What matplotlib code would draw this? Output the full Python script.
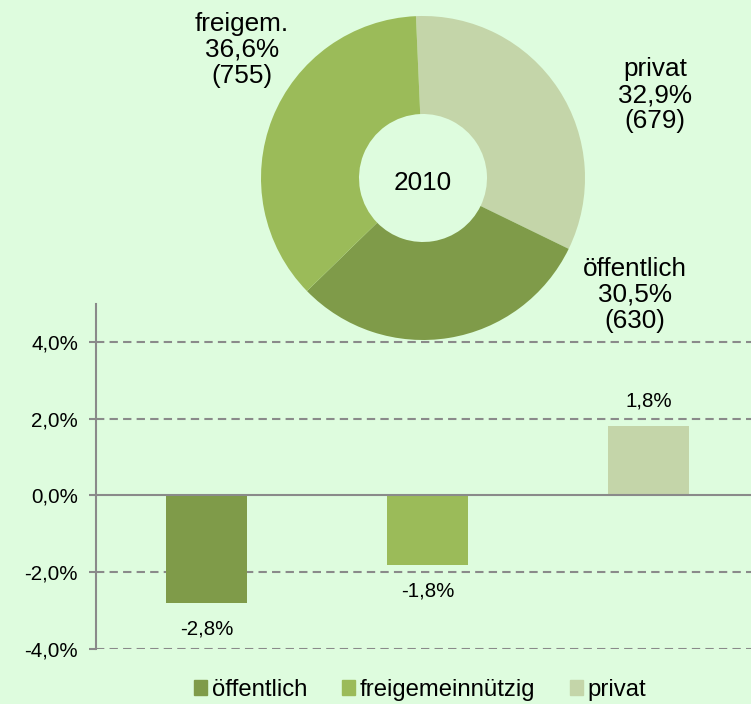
import matplotlib
matplotlib.use("Agg")
import matplotlib.pyplot as plt
from matplotlib.patches import Patch

plt.rcParams['font.family'] = ['Liberation Sans', 'DejaVu Sans']

# data
categories = ['öffentlich', 'freigemeinnützig', 'privat']
changes = [-2.8, -1.8, 1.8]          # Veränderung in %
change_labels = ['-2,8%', '-1,8%', '1,8%']

pie_names = ['privat', 'öffentlich', 'freigem.']
pie_shares = [32.9, 30.5, 36.6]
pie_share_labels = ['32,9%', '30,5%', '36,6%']
pie_counts = [679, 630, 755]
pie_year = '2010'

y_ticks = [-4, -2, 0, 2, 4]
y_ticklabels = ['-4,0%', '-2,0%', '0,0%', '2,0%', '4,0%']

colors = {'öffentlich': '#7F9B49', 'freigemeinnützig': '#9BBB59', 'privat': '#C4D5A9'}
pie_colors = [colors['privat'], colors['öffentlich'], colors['freigemeinnützig']]
bg = '#DEFCDE'
grey = '#8A8A8A'

W, H = 751, 704
fig = plt.figure(figsize=(W / 100, H / 100), dpi=100, facecolor=bg)


def px(x, y):
    """pixel (from top left) to figure fraction"""
    return x / W, 1 - y / H


# bar chart
ax = fig.add_axes([96 / W, 55 / H, 655 / W, 345.5 / H])
ax.set_facecolor(bg)
xs = list(range(len(categories)))
ax.bar(xs, changes, width=0.37, color=[colors[c] for c in categories], zorder=3)
ax.set_xlim(-0.5, -0.5 + 655 / 221)
ax.set_ylim(-4, 5)
for t in y_ticks:
    if t == 0:
        ax.axhline(0, color=grey, lw=1.5, zorder=4)
    else:
        ax.axhline(t, color=grey, lw=1.5, ls=(0, (4, 2.5)), zorder=1)
ax.set_yticks(y_ticks)
ax.set_yticklabels(y_ticklabels, fontsize=14.8)
ax.tick_params(axis='y', length=5, width=1.5, color=grey, pad=8)
ax.set_xticks([])
for s in ['top', 'right', 'bottom']:
    ax.spines[s].set_visible(False)
ax.spines['left'].set_color(grey)
ax.spines['left'].set_linewidth(1.5)

for x, v, lab in zip(xs, changes, change_labels):
    off = 18 if v > 0 else -19
    ax.annotate(lab, (x, v), xytext=(0, off), textcoords='offset points',
                ha='center', va='center', fontsize=14.8)

handles = [Patch(color=colors[c]) for c in categories]
fig.legend(handles, categories, loc='center', bbox_to_anchor=px(420, 690),
           ncol=3, frameon=False, fontsize=17.2, handlelength=0.55, handleheight=0.55,
           handletextpad=0.2, columnspacing=1.45, borderpad=0)

# donut
cx, cy, r = 423, 178, 162
pax = fig.add_axes([(cx - r) / W, (H - cy - r) / H, 2 * r / W, 2 * r / H])
pax.pie(pie_shares, colors=pie_colors, startangle=92.5, counterclock=False,
        radius=1, wedgeprops=dict(width=1 - 64 / 162, linewidth=0))
pax.set_xlim(-1, 1)
pax.set_ylim(-1, 1)
pax.set_aspect('equal')
pax.axis('off')
pax.text(0, -0.03, pie_year, ha='center', va='center', fontsize=18.8)

label_pos = [(655, 95), (635, 295), (242, 50)]
for name, share, n, (lx, ly) in zip(pie_names, pie_share_labels, pie_counts, label_pos):
    fig.text(*px(lx, ly), f"{name}\n{share}\n({n})", ha='center', va='center',
             fontsize=18.8, linespacing=1.12)

fig.savefig('out.png', dpi=100, facecolor=bg)
